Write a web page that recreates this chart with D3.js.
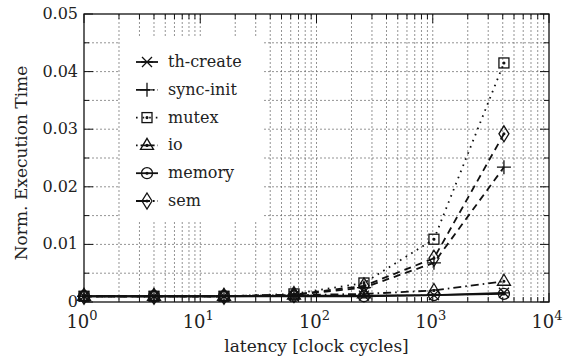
<!DOCTYPE html>
<html>
<head>
<meta charset="utf-8">
<script src="https://cdn.jsdelivr.net/npm/d3@7"></script>
<style>
  body { margin: 0; background: #fff; }
  svg text { font-family: "DejaVu Serif", "Liberation Serif", serif; }
</style>
</head>
<body>
<svg id="chart" width="573" height="364"></svg>
<script>
// latency values (clock cycles)
var latency = [1, 4, 16, 64, 256, 1024, 4096];

var thCreate = [0.0010, 0.0010, 0.0010, 0.0011, 0.0011, 0.0012, 0.0016];
var syncInit = [0.0010, 0.0010, 0.0010, 0.0012, 0.0025, 0.0068, 0.0234];
var mutex    = [0.0010, 0.0010, 0.0010, 0.0014, 0.0033, 0.0109, 0.0415];
var io       = [0.0010, 0.0010, 0.0010, 0.0012, 0.0014, 0.0020, 0.0036];
var memory   = [0.0010, 0.0010, 0.0010, 0.0010, 0.0010, 0.0012, 0.0014];
var sem      = [0.0010, 0.0010, 0.0010, 0.0013, 0.0028, 0.0076, 0.0292];

var seriesNames = ["th-create", "sync-init", "mutex", "io", "memory", "sem"];
var yTicks = [0, 0.01, 0.02, 0.03, 0.04, 0.05];
var xTicks = [1, 10, 100, 1000, 10000];

var series = [
  { name: seriesNames[0], values: thCreate, dash: null,        leg: null,            sym: "star" },
  { name: seriesNames[1], values: syncInit, dash: "7,5",       leg: "14,3,1.6,3",    sym: "plus" },
  { name: seriesNames[2], values: mutex,    dash: "1.6,5",     leg: "1.6,5",         sym: "square" },
  { name: seriesNames[3], values: io,       dash: "8,4,1.6,4", leg: "1.6,3,14,3",    sym: "triangle" },
  { name: seriesNames[4], values: memory,   dash: null,        leg: null,            sym: "circle" },
  { name: seriesNames[5], values: sem,      dash: "7,5",       leg: "14,3,1.6,3",    sym: "diamond" }
];

var margin = {top: 14, right: 24, bottom: 62, left: 84},
    W = 573, H = 364,
    width = W - margin.left - margin.right,
    height = H - margin.top - margin.bottom;

var svg = d3.select("#chart");
var g = svg.append("g").attr("transform", "translate(" + margin.left + "," + margin.top + ")");

var x = d3.scaleLog().domain([1, 10000]).range([0, width]);
var y = d3.scaleLinear().domain([0, 0.05]).range([height, 0]);

// minor positions
var xMinor = [];
for (var d = 1; d < 10000; d *= 10)
  for (var k = 1; k <= 9; k++) xMinor.push(d * k);
xMinor.push(10000);
var yMinor = d3.range(0, 0.0501, 0.005);

// grid
g.append("g").selectAll("line").data(xMinor.filter(v => v > 1 && v < 10000)).enter().append("line")
  .attr("x1", d => x(d)).attr("x2", d => x(d)).attr("y1", 0).attr("y2", height)
  .attr("stroke", "#666").attr("stroke-width", 0.7).attr("stroke-dasharray", "2,2");
g.append("g").selectAll("line").data(yMinor.filter(v => v > 0.0001 && v < 0.0499)).enter().append("line")
  .attr("x1", 0).attr("x2", width).attr("y1", d => y(d)).attr("y2", d => y(d))
  .attr("stroke", "#666").attr("stroke-width", 0.7).attr("stroke-dasharray", "2,2");

// legend background covers grid
var legX = 36, legY = 23;
g.append("rect").attr("x", legX).attr("y", legY).attr("width", 142).attr("height", 183).attr("fill", "#fff");

// ticks (inside, mirrored)
var tk = g.append("g").attr("stroke", "#111").attr("stroke-width", 1);
xMinor.forEach(function(v) {
  var major = xTicks.indexOf(v) >= 0;
  var len = major ? 9 : 5;
  tk.append("line").attr("x1", x(v)).attr("x2", x(v)).attr("y1", height).attr("y2", height - len);
  tk.append("line").attr("x1", x(v)).attr("x2", x(v)).attr("y1", 0).attr("y2", len);
});
yMinor.forEach(function(v) {
  var major = Math.abs(v * 100 - Math.round(v * 100)) < 1e-6;
  var len = major ? 9 : 5;
  tk.append("line").attr("x1", 0).attr("x2", len).attr("y1", y(v)).attr("y2", y(v));
  tk.append("line").attr("x1", width).attr("x2", width - len).attr("y1", y(v)).attr("y2", y(v));
});

// frame
g.append("rect").attr("width", width).attr("height", height)
  .attr("fill", "none").attr("stroke", "#111").attr("stroke-width", 1.3);

// tick labels
g.append("g").selectAll("text").data(yTicks).enter().append("text")
  .attr("x", -6).attr("y", d => y(d) + 5).attr("text-anchor", "end").attr("fill", "#222")
  .attr("font-size", 16).text(d => d === 0 ? "0" : d3.format(".2f")(d));

var xl = g.append("g").selectAll("text").data(xTicks).enter().append("text")
  .attr("x", d => x(d) - 2).attr("y", height + 26).attr("text-anchor", "middle").attr("fill", "#222")
  .attr("font-size", 18);
xl.append("tspan").text("10");
xl.append("tspan").attr("dy", -8).attr("font-size", 13).text(d => Math.round(Math.log10(d)));

// axis titles
svg.append("text").attr("x", margin.left + width / 2).attr("y", 352).attr("fill", "#222")
  .attr("text-anchor", "middle").attr("font-size", 17).text("latency [clock cycles]");
svg.append("text").attr("transform", "translate(27,163) rotate(-90)")
  .attr("text-anchor", "middle").attr("font-size", 17).attr("fill", "#222").text("Norm. Execution Time");

// symbols
function drawSymbol(sel, type, cx, cy) {
  var s = 5;
  var p = sel.append("g").attr("transform", "translate(" + cx + "," + cy + ")")
    .attr("fill", "none").attr("stroke", "#111").attr("stroke-width", 1.3);
  if (type === "star") {
    p.append("path").attr("d", "M-5,-5L5,5M-5,5L5,-5M-6,0L6,0");
  } else if (type === "plus") {
    p.append("path").attr("d", "M-7,0L7,0M0,-7L0,7");
  } else if (type === "square") {
    p.append("rect").attr("x", -s).attr("y", -s).attr("width", 2 * s).attr("height", 2 * s);
    p.append("circle").attr("r", 0.9).attr("fill", "#111");
  } else if (type === "triangle") {
    p.append("path").attr("d", "M0,-7L6.5,4L-6.5,4Z");
    p.append("circle").attr("r", 0.9).attr("fill", "#111");
  } else if (type === "circle") {
    p.append("circle").attr("r", s + 0.5);
    p.append("circle").attr("r", 0.9).attr("fill", "#111");
  } else if (type === "diamond") {
    p.append("path").attr("d", "M0,-8L5,0L0,8L-5,0Z");
    p.append("circle").attr("r", 0.9).attr("fill", "#111");
  }
}

var line = d3.line().x(d => x(d[0])).y(d => y(d[1]));

series.forEach(function(s) {
  var pts = latency.map((l, i) => [l, s.values[i]]);
  g.append("path").datum(pts).attr("d", line).attr("fill", "none")
    .attr("stroke", "#111").attr("stroke-width", 1.8)
    .attr("stroke-dasharray", s.dash);
  pts.forEach(p => drawSymbol(g, s.sym, x(p[0]), y(p[1])));
});

// legend
series.forEach(function(s, i) {
  var ly = legY + 25 + i * 27.8;
  g.append("line").attr("x1", legX + 16).attr("x2", legX + 38).attr("y1", ly).attr("y2", ly)
    .attr("stroke", "#111").attr("stroke-width", 1.8).attr("stroke-dasharray", s.leg);
  drawSymbol(g, s.sym, legX + 27, ly);
  g.append("text").attr("x", legX + 48).attr("y", ly + 5).attr("font-size", 16).attr("fill", "#222").text(s.name);
});
</script>
</body>
</html>
